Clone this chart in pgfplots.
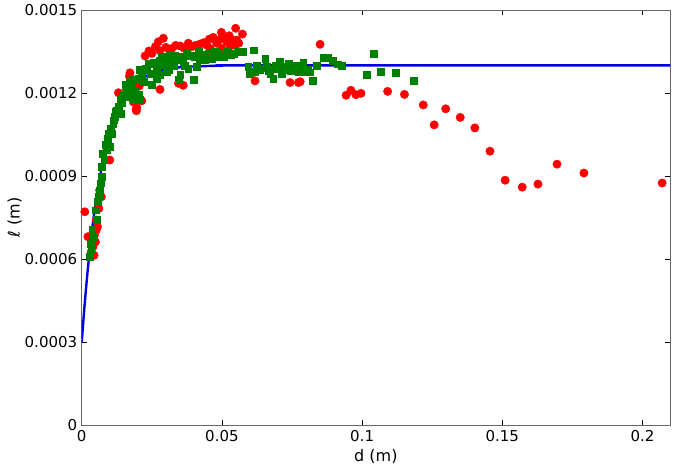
\documentclass[border=0pt]{standalone}
\usepackage{fontspec}
\setmainfont{DejaVu Sans}
\usepackage{pgfplots}
\pgfplotsset{compat=1.18}
\definecolor{mplred}{RGB}{255,0,0}
\definecolor{mplgreen}{RGB}{0,128,0}
\definecolor{mplblue}{RGB}{0,0,230}

\begin{document}
\begin{tikzpicture}
\begin{axis}[
  scale only axis,
  width=588pt,
  height=415pt,
  xmin=0, xmax=0.2098,
  ymin=0, ymax=0.0015,
  xtick={0,0.05,0.1,0.15,0.2},
  xticklabels={0,0.05,0.1,0.15,0.2},
  ytick={0,0.0003,0.0006,0.0009,0.0012,0.0015},
  yticklabels={0,0.0003,0.0006,0.0009,0.0012,0.0015},
  scaled ticks=false,
  /pgf/number format/assume math mode=true,
  tick label style={font=\fontsize{15}{17}\selectfont},
  label style={font=\fontsize{16}{19}\selectfont},
  xlabel={d (m)},
  ylabel={\textit{ℓ} (m)},
  xlabel style={at={(axis description cs:0.5,-0.076)}, anchor=center},
  ylabel style={at={(axis description cs:-0.114,0.5)}, anchor=center},
  tick align=inside,
  major tick length=5pt,
  axis line style={black!60, line width=0.9pt},
  tick style={black, line width=0.6pt},
  xticklabel style={yshift=-2pt},
  yticklabel style={xshift=-1pt},
  clip=true,
]
% red circles
\addplot[only marks, mark=*, mark size=4.2pt, color=mplred, mark options={draw=mplred, fill=mplred}] coordinates {
(0.0011,0.000771) (0.0022,0.000681) (0.0034,0.000626) (0.0040,0.000644) (0.0044,0.000614)
(0.0046,0.000687) (0.0049,0.000662) (0.0052,0.000741) (0.0052,0.000705) (0.0056,0.000717)
(0.0061,0.000783) (0.0064,0.000849) (0.0070,0.000825) (0.0100,0.000958) (0.0131,0.001201)
(0.0170,0.001261) (0.0172,0.001273) (0.0184,0.001168) (0.0194,0.001141) (0.0196,0.001148)
(0.0195,0.001136) (0.0214,0.001172) (0.0226,0.001334) (0.0250,0.001343) (0.0273,0.001385)
(0.0279,0.001353) (0.0279,0.001213) (0.0291,0.001398) (0.0321,0.001361) (0.0345,0.001235)
(0.0351,0.001370) (0.0362,0.001228) (0.0380,0.001380) (0.0392,0.001367) (0.0422,0.001377)
(0.0446,0.001373) (0.0458,0.001361) (0.0469,0.001401) (0.0481,0.001380) (0.0498,0.001419)
(0.0499,0.001361) (0.0517,0.001385) (0.0526,0.001407) (0.0529,0.001370) (0.0547,0.001373)
(0.0549,0.001434) (0.0553,0.001391) (0.0573,0.001413) (0.0618,0.001244) (0.0743,0.001238)
(0.0773,0.001238) (0.0779,0.001241) (0.0850,0.001376) (0.0943,0.001192) (0.0960,0.001210)
(0.0978,0.001194) (0.0996,0.001199) (0.1091,0.001206) (0.1151,0.001195) (0.1218,0.001157)
(0.1257,0.001085) (0.1298,0.001143) (0.1350,0.001112) (0.1402,0.001074) (0.1456,0.000990)
(0.1510,0.000885) (0.1571,0.000860) (0.1627,0.000871) (0.1695,0.000943) (0.1791,0.000911)
(0.2070,0.000875) (0.0300,0.001365) (0.0335,0.001372) (0.0365,0.001362) (0.0405,0.001372)
(0.0435,0.001382) (0.0455,0.001395) (0.0490,0.001392) (0.0512,0.001398) (0.0535,0.001392)
(0.0560,0.001380) (0.0240,0.001352) (0.0263,0.001368) (0.0160,0.001212) (0.0205,0.001225)
};
% green squares
\addplot[only marks, mark=square*, mark size=3.4pt, color=mplgreen, mark options={draw=mplgreen, fill=mplgreen}] coordinates {
(0.0029,0.000608) (0.0034,0.000632) (0.0032,0.000657) (0.0040,0.000681) (0.0037,0.000705)
(0.0052,0.000741) (0.0049,0.000777) (0.0056,0.000807) (0.0061,0.000825) (0.0064,0.000849)
(0.0068,0.000874) (0.0070,0.000897) (0.0072,0.000934) (0.0080,0.000958) (0.0076,0.000982)
(0.0088,0.000994) (0.0084,0.001012) (0.0100,0.001006) (0.0094,0.001036) (0.0106,0.001054)
(0.0103,0.001072) (0.0112,0.001090) (0.0118,0.001114) (0.0120,0.001132) (0.0141,0.001126)
(0.0095,0.001054) (0.0113,0.001102) (0.0119,0.001126) (0.0131,0.001150) (0.0137,0.001175)
(0.0148,0.001193) (0.0160,0.001211) (0.0178,0.001223) (0.0172,0.001241) (0.0190,0.001205)
(0.0202,0.001193) (0.0208,0.001175) (0.0202,0.001253) (0.0214,0.001271) (0.0226,0.001289)
(0.0208,0.001283) (0.0238,0.001307) (0.0250,0.001229) (0.0261,0.001271) (0.0267,0.001295)
(0.0279,0.001319) (0.0291,0.001301) (0.0303,0.001277) (0.0309,0.001325) (0.0321,0.001313)
(0.0333,0.001337) (0.0345,0.001319) (0.0351,0.001265) (0.0345,0.001249) (0.0362,0.001313)
(0.0374,0.001343) (0.0380,0.001289) (0.0398,0.001249) (0.0404,0.001331) (0.0416,0.001349)
(0.0410,0.001295) (0.0428,0.001337) (0.0440,0.001319) (0.0452,0.001343) (0.0464,0.001325)
(0.0475,0.001349) (0.0487,0.001331) (0.0499,0.001343) (0.0517,0.001349) (0.0541,0.001343)
(0.0576,0.001349) (0.0612,0.001355) (0.0594,0.001295) (0.0600,0.001271) (0.0618,0.001277)
(0.0636,0.001283) (0.0654,0.001325) (0.0660,0.001295) (0.0672,0.001271) (0.0683,0.001253)
(0.0695,0.001289) (0.0707,0.001313) (0.0719,0.001283) (0.0737,0.001307) (0.0755,0.001289)
(0.0773,0.001277) (0.0790,0.001307) (0.0808,0.001283) (0.0244,0.001271) (0.0279,0.001265)
(0.0309,0.001283) (0.0267,0.001253) (0.0184,0.001175) (0.0166,0.001187) (0.0143,0.001163)
(0.0125,0.001138) (0.0790,0.001311) (0.0785,0.001275) (0.0802,0.001286) (0.0812,0.001275)
(0.0825,0.001244) (0.0837,0.001300) (0.0864,0.001327) (0.0878,0.001327) (0.0894,0.001317)
(0.0912,0.001304) (0.0927,0.001300) (0.1017,0.001265) (0.1041,0.001343) (0.1065,0.001276)
(0.1121,0.001273) (0.1183,0.001246)
(0.0155,0.001230) (0.0185,0.001250) (0.0220,0.001240) (0.0232,0.001285) (0.0255,0.001310)
(0.0285,0.001330) (0.0315,0.001340) (0.0330,0.001300) (0.0355,0.001330) (0.0368,0.001300)
(0.0390,0.001335) (0.0420,0.001320) (0.0445,0.001340) (0.0470,0.001338) (0.0505,0.001330)
(0.0530,0.001338) (0.0555,0.001350) (0.0625,0.001300) (0.0645,0.001290) (0.0665,0.001280)
(0.0690,0.001300) (0.0712,0.001270) (0.0728,0.001295) (0.0745,0.001280) (0.0765,0.001300)
};
% fitted curve
\addplot[color=mplblue, line width=2.4pt, smooth] coordinates {
(0,0.000300) (0.001,0.000431) (0.002,0.000546) (0.003,0.000645) (0.004,0.000731)
(0.005,0.000806) (0.006,0.000870) (0.008,0.000976) (0.010,0.001056) (0.012,0.001116)
(0.014,0.001161) (0.016,0.001195) (0.018,0.001221) (0.020,0.001240) (0.023,0.001261)
(0.026,0.001274) (0.030,0.001285) (0.035,0.001293) (0.040,0.001296) (0.050,0.001299)
(0.060,0.001300) (0.2098,0.001300)
};
\end{axis}
\pgfresetboundingbox
\path ([xshift=-81.7pt,yshift=-47pt]current axis.south west) rectangle ([xshift=5pt,yshift=10pt]current axis.north east);
\end{tikzpicture}
\end{document}
